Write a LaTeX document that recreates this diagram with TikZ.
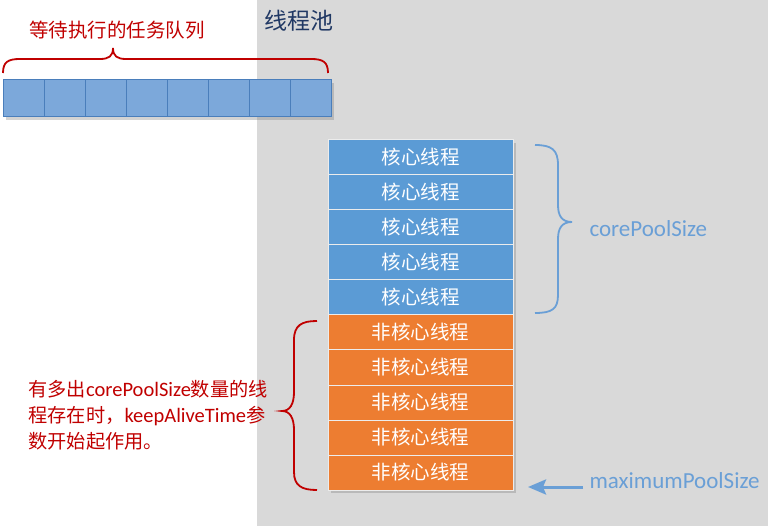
\documentclass[tikz,border=0pt]{standalone}
\usepackage{fontspec}
\setmainfont{Noto Sans CJK SC}
\newfontfamily\lat{Carlito}
\usetikzlibrary{positioning,shadows,arrows.meta}
\definecolor{poolgray}{HTML}{D9D9D9}
\definecolor{cellblue}{HTML}{7CA8DA}
\definecolor{cellline}{HTML}{4A7EBB}
\definecolor{coreblue}{HTML}{5B9BD5}
\definecolor{extraorange}{HTML}{ED7D31}
\definecolor{notered}{HTML}{C00000}
\definecolor{titleblue}{HTML}{203864}
\definecolor{sizeblue}{HTML}{6A9FD6}

\begin{document}
\begin{tikzpicture}[x=1pt,y=-1pt,
  queuecell/.style={draw=cellline,fill=cellblue,line width=1pt,
    minimum width=41pt,minimum height=37pt,inner sep=0pt,
    drop shadow={shadow xshift=3pt,shadow yshift=-3pt,opacity=.35}},
  threadbox/.style={draw=white!85!gray,line width=1pt,text=white,
    minimum width=185pt,minimum height=35pt,inner sep=0pt,
    font=\fontsize{19.5}{22}\selectfont,
    drop shadow={shadow xshift=3pt,shadow yshift=-3pt,opacity=.35}},
  bracered/.style={draw=notered,line width=1.8pt},
  braceblue/.style={draw=sizeblue,line width=1.8pt}]
  \useasboundingbox (0,0) rectangle (768,526);

  % Pool background
  \fill[poolgray] (257,0) rectangle (768,526);
  \node[anchor=west,text=titleblue,font=\fontsize{23}{26}\selectfont] (title) at (261,21) {线程池};

  % Waiting queue
  \foreach \i in {0,...,7}
    \node[queuecell] (cell\i) at ({23.5+41*\i},98.5) {};
  \node[text=notered,font=\fontsize{19.5}{22}\selectfont] (queuelabel) at (117,30) {等待执行的任务队列};
  \draw[bracered] (3,73) .. controls (3,62) and (8,59) .. (20,59) -- (100,59)
    .. controls (109,59) and (113,56) .. (113,48)
    .. controls (113,56) and (117,59) .. (126,59) -- (311,59)
    .. controls (323,59) and (328,62) .. (328,73);

  % Core threads
  \foreach \i in {0,...,4}
    \node[threadbox,fill=coreblue] (core\i) at (420.5,{157.5+35*\i}) {核心线程};
  % Non-core threads
  \foreach \i in {0,...,4}
    \node[threadbox,fill=extraorange] (extra\i) at (420.5,{332.5+35*\i}) {非核心线程};

  % corePoolSize brace
  \draw[braceblue] (535,145) .. controls (552,145) and (558,150) .. (558,165) -- (558,205)
    .. controls (558,216) and (562,222) .. (572,222)
    .. controls (562,222) and (558,228) .. (558,239) -- (558,295)
    .. controls (558,309) and (552,313) .. (535,313);
  \node[anchor=west,text=sizeblue,font=\lat\fontsize{23}{26}\selectfont] (coresize) at (586,229) {corePoolSize};

  % keepAliveTime note
  \draw[bracered] (317,321) .. controls (302,321) and (294,325) .. (294,340) -- (294,392)
    .. controls (294,404) and (290,411) .. (282,411)
    .. controls (290,411) and (294,418) .. (294,430) -- (294,472)
    .. controls (294,486) and (302,490) .. (317,490);
  \node[anchor=west,text=notered,align=left,font=\fontsize{19.2}{26}\selectfont] (note) at (25,415)
    {有多出{\lat\fontsize{20.5}{26}\selectfont corePoolSize}数量的线\\
     程存在时，{\lat\fontsize{20.5}{26}\selectfont keepAliveTime}参\\
     数开始起作用。};

  % maximumPoolSize
  \node[anchor=west,text=sizeblue,font=\lat\fontsize{23}{26}\selectfont] (maxsize) at (586,481) {maximumPoolSize};
  \coordinate (maxtail) at (583,487);
  \coordinate (maxtip) at (528,487);
  \draw[sizeblue,line width=3pt,-{Stealth[length=18pt,width=15pt,inset=3pt]}] (maxtail) -- (maxtip);
\end{tikzpicture}
\end{document}
